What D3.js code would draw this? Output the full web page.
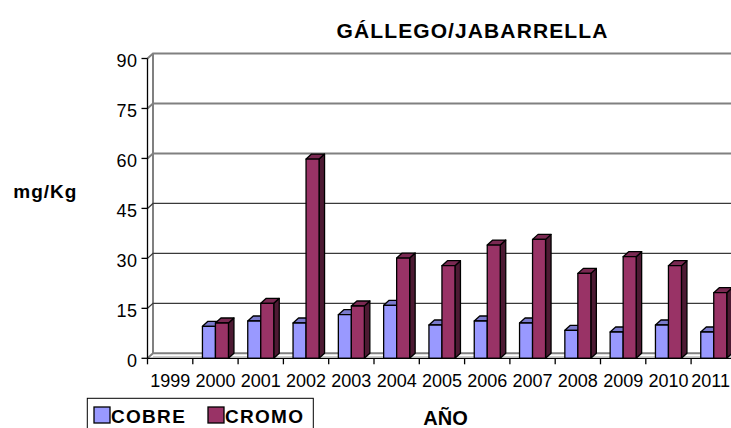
<!DOCTYPE html>
<html lang="es">
<head>
    <meta charset="UTF-8">
    <title>GÁLLEGO/JABARRELLA</title>
    <script src="https://cdn.jsdelivr.net/npm/d3@7"></script>
    <style>
        body { margin: 0; background: #fff; }
        svg { display: block; font-family: "Liberation Sans", Arial, sans-serif; }
    </style>
</head>
<body>
<svg id="chart" width="731" height="428"></svg>

<script>
    // datos
    const years = ["1999", "2000", "2001", "2002", "2003", "2004", "2005", "2006", "2007", "2008", "2009", "2010", "2011"];
    const cobre = [null, 9.6, 11.2, 10.6, 13.1, 15.9, 10.0, 11.2, 10.6, 8.4, 7.9, 10.0, 7.9];
    const cromo = [null, 10.6, 16.5, 59.8, 15.7, 30.1, 27.8, 34.0, 35.7, 25.5, 30.5, 27.8, 19.7];
    const yTicks = [0, 15, 30, 45, 60, 75, 90];
    const seriesNames = ["COBRE", "CROMO"];

    const colors = {
        COBRE: {front: "#9999ff", top: "#7a7acc", side: "#4d4d80"},
        CROMO: {front: "#993366", top: "#7a2952", side: "#4d1a33"}
    };

    const svg = d3.select("#chart");
    const width = 731;
    const plotLeft = 147.5, plotRight = 736.4;
    const plotBottom = 358.3, plotTop = 58.5;
    const dx = 5.5, dy = -5;   // profundidad 3D

    const x = d3.scaleBand().domain(years).range([plotLeft, plotRight]).padding(0);
    const bw = x.bandwidth();
    const x1 = d3.scaleBand().domain(seriesNames).range([bw * 0.213, bw * 0.787]).padding(0);
    const y = d3.scaleLinear().domain([0, 90]).range([plotBottom, plotTop]);

    const data = [];
    years.forEach((yr, i) => {
        data.push({year: yr, name: "COBRE", value: cobre[i]});
        data.push({year: yr, name: "CROMO", value: cromo[i]});
    });

    // pared lateral y fondo
    const wall = svg.append("g");
    wall.append("line")
        .attr("x1", plotLeft + dx).attr("x2", plotLeft + dx)
        .attr("y1", y(90) + dy).attr("y2", y(0) + dy)
        .attr("stroke", "#808080").attr("stroke-width", 2);

    // lineas de division
    wall.selectAll(".grid")
        .data(yTicks.filter(d => d > 0))
        .enter().append("polyline")
        .attr("fill", "none")
        .attr("stroke", d => d >= 60 ? "#808080" : "#3a3a3a")
        .attr("stroke-width", d => d >= 60 ? 2 : 1.3)
        .attr("points", d => `${plotLeft},${y(d)} ${plotLeft + dx},${y(d) + dy} ${width},${y(d) + dy}`);

    // suelo
    wall.append("polyline")
        .attr("fill", "none")
        .attr("stroke", "#808080").attr("stroke-width", 2)
        .attr("points", `${plotLeft},${plotBottom} ${plotLeft + dx},${plotBottom + dy} ${width},${plotBottom + dy}`);
    wall.append("line")
        .attr("x1", plotLeft + dx).attr("x2", width)
        .attr("y1", plotBottom - 1.6).attr("y2", plotBottom - 1.6)
        .attr("stroke", "#c0c0c0").attr("stroke-width", 1);

    // barras 3D
    const bars = svg.append("g")
        .attr("stroke", "#000")
        .attr("stroke-width", 1.3)
        .attr("stroke-linejoin", "round");

    data.filter(d => d.value != null).forEach(d => {
        const bx = x(d.year) + x1(d.name);
        const w = x1.bandwidth();
        const by = y(d.value);
        const c = colors[d.name];
        const g = bars.append("g");
        g.append("polygon")
            .attr("fill", c.side)
            .attr("points", `${bx + w},${by} ${bx + w + dx},${by + dy} ${bx + w + dx},${y(0) + dy} ${bx + w},${y(0)}`);
        g.append("polygon")
            .attr("fill", c.top)
            .attr("points", `${bx},${by} ${bx + dx},${by + dy} ${bx + w + dx},${by + dy} ${bx + w},${by}`);
        g.append("rect")
            .attr("fill", c.front)
            .attr("x", bx).attr("y", by)
            .attr("width", w).attr("height", y(0) - by);
    });

    // eje Y
    const yAxis = svg.append("g");
    yAxis.append("line")
        .attr("x1", plotLeft).attr("x2", plotLeft)
        .attr("y1", plotTop).attr("y2", plotBottom)
        .attr("stroke", "#000").attr("stroke-width", 1.3);
    yAxis.selectAll(".tick")
        .data(yTicks)
        .enter().append("line")
        .attr("x1", plotLeft - 6).attr("x2", plotLeft)
        .attr("y1", d => y(d)).attr("y2", d => y(d))
        .attr("stroke", "#000").attr("stroke-width", 1.3);
    yAxis.selectAll(".label")
        .data(yTicks)
        .enter().append("text")
        .attr("x", 137.5)
        .attr("y", d => y(d) + 8.5)
        .attr("text-anchor", "end")
        .attr("font-size", 18)
        .attr("letter-spacing", 0.5)
        .text(d => d);

    // eje X
    const xAxis = svg.append("g");
    xAxis.append("line")
        .attr("x1", plotLeft).attr("x2", width)
        .attr("y1", plotBottom).attr("y2", plotBottom)
        .attr("stroke", "#000").attr("stroke-width", 1.3);
    xAxis.selectAll(".tick")
        .data(years)
        .enter().append("line")
        .attr("x1", d => x(d)).attr("x2", d => x(d))
        .attr("y1", plotBottom).attr("y2", plotBottom + 6)
        .attr("stroke", "#000").attr("stroke-width", 1.3);
    xAxis.selectAll(".label")
        .data(years)
        .enter().append("text")
        .attr("x", d => x(d) + bw / 2)
        .attr("y", 386.7)
        .attr("text-anchor", "middle")
        .attr("font-size", 18)
        .text(d => d)
        .each(function() {
            // la ultima etiqueta se mete dentro del dibujo, como en Excel
            const b = this.getBBox();
            if (b.x + b.width > width - 1) {
                d3.select(this).attr("x", +d3.select(this).attr("x") - (b.x + b.width - (width - 1)));
            }
        });

    // titulos
    svg.append("text")
        .attr("x", 472.5).attr("y", 37.7)
        .attr("text-anchor", "middle")
        .attr("font-size", 21).attr("font-weight", "bold")
        .attr("letter-spacing", 1.1)
        .text("GÁLLEGO/JABARRELLA");
    svg.append("text")
        .attr("x", 13.3).attr("y", 198.3)
        .attr("font-size", 19).attr("font-weight", "bold")
        .attr("letter-spacing", 1)
        .text("mg/Kg");
    svg.append("text")
        .attr("x", 423.3).attr("y", 425)
        .attr("font-size", 20).attr("font-weight", "bold")
        .text("AÑO");

    // leyenda
    const legend = svg.append("g");
    legend.append("rect")
        .attr("x", 87.3).attr("y", 398.3)
        .attr("width", 226).attr("height", 40)
        .attr("fill", "#fff").attr("stroke", "#000").attr("stroke-width", 1);
    const items = legend.selectAll(".item")
        .data(seriesNames)
        .enter().append("g")
        .attr("transform", (d, i) => `translate(${94 + i * 114},407)`);
    items.append("rect")
        .attr("width", 16).attr("height", 16)
        .attr("fill", d => colors[d].front)
        .attr("stroke", "#000").attr("stroke-width", 1.3);
    items.append("text")
        .attr("x", 17).attr("y", 16.3)
        .attr("font-size", 19).attr("font-weight", "bold")
        .attr("letter-spacing", 1.3)
        .text(d => d);
</script>
</body>
</html>
